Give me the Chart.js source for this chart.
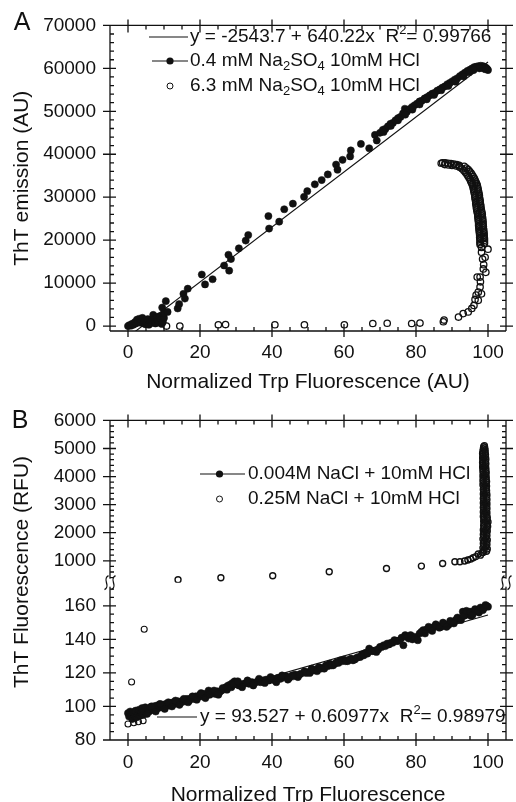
<!DOCTYPE html>
<html>
<head>
<meta charset="utf-8">
<script src="https://cdn.jsdelivr.net/npm/chart.js@4.4.0/dist/chart.umd.min.js"></script>
<style>
  html, body { margin: 0; padding: 0; background: #fff; overflow: hidden; width: 516px; height: 802px; }
  #chartA { position: absolute; left: 0; top: 0; }
  #chartB { position: absolute; left: 0; top: 395px; }
</style>
</head>
<body>
<canvas id="chartA" width="516" height="395"></canvas>
<canvas id="chartB" width="516" height="413"></canvas>
<script>
// ---- tick labels ----
const xTickVals = [0, 20, 40, 60, 80, 100];
const aYTickVals = [0, 10000, 20000, 30000, 40000, 50000, 60000, 70000];
const bLowTickVals = [80, 100, 120, 140, 160];
const bHighTickVals = [1000, 2000, 3000, 4000, 5000, 6000];

// ---- panel A: ThT emission vs normalized Trp fluorescence ----
const aSolidX = [
  0, 0.4, 0.8, 1.1, 1.5, 1.9, 2.2, 2.5, 2.8, 3.1, 3.4, 3.7, 4.0, 4.3, 4.6, 4.9, 5.2, 5.5, 5.8, 6.1, 6.4, 6.7, 7.0, 7.3, 7.6, 7.9, 8.2, 8.5, 8.8, 9.1, 9.4, 9.7, 10.0,
  9.5, 10.0, 10.5, 11.0, 13.8, 14.2, 15.4, 15.8, 16.6, 20.5, 21.4, 23.5, 26.7, 27.9, 28.1, 28.6, 30.8, 32.7, 33.4, 39.0, 39.2, 42.0, 43.4, 45.8, 48.9, 49.8, 51.9, 53.8, 55.5, 57.8, 58.2, 59.6, 61.7, 61.9, 64.7, 67.0, 68.6, 69.1,
  70.0, 70.8, 71.5, 72.2, 72.9, 73.6, 74.3, 75.0, 75.7, 76.4, 76.9, 77.5, 78.2, 78.9, 79.6, 80.3, 81.0, 81.7, 82.4, 83.1, 83.8, 84.5, 85.2, 85.9, 86.6, 87.3, 88.0, 88.7, 89.4, 90.1, 90.8, 91.5, 92.2, 92.9, 93.6, 94.3, 95.0, 95.6, 96.2, 96.8, 97.4, 98.0, 98.6, 99.1, 99.5, 99.8, 100.0,
  99.2, 98.3, 97.6, 96.0, 94.8, 93.2, 91.0, 89.0, 87.0, 85.0, 83.0, 81.0, 79.0, 77.0, 75.0, 73.0, 71.0
];
const aSolidY = [
  0, 200, 100, 500, 300, 900, 600, 1500, 1100, 1700, 800, 1400, 1900, 600, 1200, 400, 900, 1600, 300, 1100, 700, 1300, 2600, 1500, 600, 2100, 1200, 800, 2300, 1500, 500, 1000, 1900,
  4300, 3000, 5800, 3300, 4100, 5100, 7500, 6400, 8700, 12000, 9700, 10900, 14100, 16600, 12900, 15600, 18100, 19900, 21200, 25600, 22700, 24300, 27200, 28500, 30100, 31400, 33000, 34000, 35300, 37600, 36400, 38700, 39500, 40900, 42400, 41400, 44500, 43200,
  45000, 45700, 45900, 46500, 47100, 47300, 47900, 48400, 48700, 49500, 50600, 49900, 50500, 51000, 51400, 51800, 52300, 52500, 53000, 53300, 53700, 54100, 54300, 54800, 55100, 55500, 55800, 56300, 56600, 57000, 57400, 57700, 58200, 58600, 59000, 59400, 59700, 60000, 60300, 60400, 60500, 60600, 60500, 60300, 60100, 59800, 59600,
  59800, 60100, 60000, 59600, 59100, 58100, 56900, 55900, 54900, 53800, 52800, 51600, 50400, 49200, 47900, 46600, 45200
];
const aOpenX = [
  10.7, 14.4, 25.1, 27.1, 40.8, 49.0, 60.1, 68.0, 72.0, 78.8, 81.1, 87.6, 87.8, 91.8, 93.1, 94.5, 95.5, 96.1, 96.4, 97.3, 96.7, 97.3, 98.2, 97.8, 97.0, 97.8, 99.4, 98.7, 98.5, 99.2, 98.2, 100.0, 98.2, 98.8, 97.9,
  97.8, 97.8, 97.8, 97.8, 97.7, 97.7, 97.7, 97.6, 97.6, 97.5, 97.5, 97.4, 97.4, 97.4, 97.3, 97.3, 97.2, 97.2, 97.1, 97.0, 96.9, 96.8, 96.8, 96.7, 96.6, 96.6, 96.5, 96.4, 96.4, 96.3, 96.2, 96.1, 96.0, 95.9, 95.8, 95.6, 95.4, 95.2, 95.0, 94.7, 94.4, 94.1, 93.7, 93.3, 92.8, 92.2,
  99.0, 99.0, 99.0, 99.0, 98.9, 98.9, 98.9, 98.8, 98.8, 98.7, 98.7, 98.6, 98.6, 98.6, 98.5, 98.5, 98.4, 98.4, 98.3, 98.2, 98.1, 98.0, 98.0, 97.9, 97.8, 97.8, 97.7, 97.6, 97.6, 97.5, 97.4, 97.3, 97.2, 97.1, 97.0, 96.8, 96.6, 96.4, 96.2, 95.9, 95.6, 95.3, 94.9, 94.5, 94.0, 93.4,
  92.0, 91.3, 90.5, 89.7, 88.9, 88.1, 87.4, 87.0, 88.0, 89.0, 90.0, 91.0, 92.0
];
const aOpenY = [
  0, 0, 300, 350, 300, 300, 300, 600, 650, 600, 700, 1000, 1400, 2100, 2900, 3300, 4100, 4800, 6200, 6000, 7200, 7900, 7500, 9100, 11400, 11400, 12500, 13300, 15600, 16000, 17200, 17900, 18300, 14300, 10300,
  19000, 19400, 19800, 20200, 20600, 21000, 21400, 21800, 22200, 22600, 23000, 23400, 23800, 24200, 24600, 25000, 25400, 25800, 26200, 26600, 27000, 27400, 27800, 28200, 28600, 29000, 29400, 29800, 30200, 30600, 31000, 31400, 31800, 32200, 32600, 33000, 33400, 33800, 34200, 34600, 35000, 35400, 35800, 36200, 36600, 37000,
  19200, 19600, 20000, 20400, 20800, 21200, 21600, 22000, 22400, 22800, 23200, 23600, 24000, 24400, 24800, 25200, 25600, 26000, 26400, 26800, 27200, 27600, 28000, 28400, 28800, 29200, 29600, 30000, 30400, 30800, 31200, 31600, 32000, 32400, 32800, 33200, 33600, 34000, 34400, 34800, 35200, 35600, 36000, 36400, 36800, 37200,
  37400, 37600, 37700, 37850, 37900, 38000, 38000, 37900, 37600, 37500, 37400, 37300, 37100
];
// fitted line y = -2543.7 + 640.22x, end points
const aFitX = [0, 100];
const aFitY = [-2543.7, 61478.3];

// ---- panel B: ThT fluorescence (broken axis) ----
const bSolidX = [
  0.0, 0.3, 0.6, 0.9, 1.2, 1.5, 1.8, 2.1, 2.4, 2.7, 3.0, 3.3, 3.6, 3.9, 4.2, 4.5, 4.8, 5.1, 5.5, 5.9, 6.3, 6.7, 7.1, 7.5, 7.9, 8.3, 8.7, 9.1, 9.5, 10.0,
  10.5, 11.0, 11.5, 12.0, 12.5, 13.0, 13.5, 14.0, 14.6, 15.2, 15.8, 16.4, 17.0, 17.6, 18.2, 18.8, 19.4, 20.0, 20.6, 21.2, 21.8, 22.4, 23.0, 23.6, 24.2, 24.8, 25.4, 26.0, 26.6, 27.2,
  27.8, 28.4, 29.0, 29.6, 30.2, 30.8, 31.4, 32.0, 32.8, 33.6, 34.4, 35.2, 36.0, 36.8, 37.6, 38.4, 39.2, 40.0, 40.8, 41.6, 42.4, 43.2, 44.0, 44.8, 45.6, 46.4, 47.2, 48.0, 49.0, 50.0,
  51.0, 52.0, 53.0, 54.0, 55.0, 56.0, 57.0, 58.0, 59.0, 60.0, 61.0, 62.0, 63.0, 64.0, 65.0, 66.0, 67.0, 68.0, 69.0, 70.0, 71.0, 72.0, 73.0, 74.0, 75.0, 76.0, 76.5, 77.0, 78.0, 79.0,
  80.0, 81.0, 82.0, 83.0, 84.0, 85.0, 86.0, 87.0, 88.0, 89.0, 90.0, 91.0, 92.0, 93.0, 93.8, 94.5, 95.3, 96.0, 96.8, 97.5, 98.2, 99.0, 99.6, 100.0,
  5.3, 6.5, 7.7, 8.9, 10.2, 11.2, 12.2, 13.2, 14.3, 15.5, 16.7, 17.9, 19.1, 20.3, 21.5, 22.7, 23.9, 25.1, 26.3, 27.5, 28.7, 29.3, 30.5, 31.7, 33.2, 34.8, 36.4, 38.0, 39.6, 41.2,
  42.8, 44.4, 46.0, 47.6, 49.5, 50.5, 51.5, 52.5, 53.5, 54.5, 55.5, 56.5, 57.5, 58.5, 59.5, 60.5, 61.5, 62.5, 63.5, 64.5, 65.5, 66.5, 67.5, 68.5, 69.5, 70.5, 71.5, 72.5, 73.5, 74.5,
  75.5, 77.5, 78.5, 79.5, 80.5, 81.5, 82.5, 83.5, 84.5, 85.5, 86.5, 87.5, 88.5, 89.5, 90.5, 91.5, 92.5, 93.3, 94.0, 95.0, 95.7, 96.4, 97.2, 97.9, 98.6, 99.3
];
const bSolidY = [
  96.0, 94.0, 97.0, 95.0, 92.5, 96.5, 94.5, 97.5, 93.5, 95.5, 98.0, 94.5, 96.5, 99.0, 95.0, 97.5, 99.5, 96.0, 98.5, 97.0, 99.5, 98.0, 100.0, 98.5, 100.5, 99.0, 101.0, 99.5, 101.0, 100.0,
  101.5, 100.5, 102.0, 101.0, 102.5, 101.5, 102.5, 103.0, 102.0, 103.5, 103.0, 104.5, 103.5, 105.0, 104.5, 106.0, 105.5, 107.0, 106.0, 107.5, 106.5, 109.5, 108.5, 108.0, 107.5, 109.0, 108.5, 109.5, 110.5, 111.5,
  112.5, 113.0, 114.0, 115.0, 113.5, 112.5, 113.0, 113.5, 114.0, 113.5, 114.5, 114.0, 115.0, 114.5, 115.5, 116.0, 115.5, 116.5, 115.5, 117.0, 116.5, 117.5, 118.0, 117.0, 118.5, 119.0, 117.5, 119.5, 121.0, 120.5,
  122.5, 122.0, 123.5, 123.0, 124.5, 125.5, 124.5, 126.5, 127.5, 128.0, 127.0, 128.5, 128.0, 129.5, 131.0, 132.0, 134.5, 133.0, 132.5, 135.5, 136.5, 137.5, 138.0, 139.5, 139.0, 141.0, 136.5, 142.5, 140.5, 140.0,
  141.0, 143.5, 145.5, 146.0, 146.5, 147.5, 148.0, 147.5, 149.0, 148.5, 150.0, 151.5, 152.5, 156.5, 154.5, 155.5, 154.0, 156.5, 157.5, 156.0, 158.5, 159.0, 160.0, 159.5,
  95.5, 100.0, 97.0, 101.5, 98.5, 102.5, 100.0, 103.5, 101.0, 104.5, 102.5, 106.0, 104.0, 108.0, 105.0, 107.0, 109.5, 107.0, 111.0, 110.0, 111.5, 113.0, 115.0, 111.5, 115.5, 112.5, 116.5, 114.0, 117.5, 114.5,
  118.5, 116.0, 118.0, 119.0, 120.0, 120.0, 121.5, 121.0, 122.5, 122.5, 124.0, 124.5, 125.5, 126.0, 127.0, 127.0, 128.0, 127.5, 129.0, 129.5, 130.5, 131.5, 133.0, 133.0, 134.0, 135.5, 136.0, 137.0, 138.0, 139.0,
  139.5, 141.5, 142.5, 141.5, 139.5, 144.5, 143.5, 147.5, 145.0, 149.0, 147.0, 150.0, 147.5, 151.0, 149.5, 153.0, 151.5, 154.0, 157.0, 156.5, 154.5, 158.0, 157.0, 159.0, 157.5, 160.5
];
const bOpenX = [
  0.0, 1.0, 1.6, 2.9, 4.2, 4.5,
  13.9, 25.8, 40.2, 55.9, 71.8, 81.5, 87.4, 90.8, 92.2, 93.5, 94.4, 95.2, 95.9, 96.6, 97.3, 97.9, 98.4,
  98.7, 99.6, 98.9, 99.8, 98.6, 99.5, 98.8, 99.7, 98.7, 99.6, 98.9, 99.8, 98.6, 99.5, 98.8, 99.7, 98.7, 99.6, 98.9, 99.8, 98.7, 99.6, 98.9, 99.9, 98.8, 99.7, 98.9, 100.0, 98.8, 99.7,
  98.9, 99.8, 98.7, 99.6, 98.9, 99.7, 98.7, 99.6, 98.8, 99.7, 98.7, 99.6, 98.8, 99.7, 98.7, 99.6, 98.8, 99.7, 98.7, 99.6, 98.8, 99.7, 98.7, 99.6, 98.8, 99.6, 98.7, 99.5, 98.8, 99.6,
  98.6, 99.5, 98.7, 99.6, 98.6, 99.5, 98.7, 99.5, 98.6, 99.4, 98.7, 99.5, 98.6, 99.4, 98.6, 99.4, 98.5, 99.3, 98.6, 99.4, 98.5, 99.3, 98.6, 99.4, 98.5, 99.3, 98.6, 99.3, 98.5, 99.2,
  98.6, 99.2, 98.7, 99.1, 98.8, 99.0
];
const bOpenY = [
  89.5, 114.6, 90.3, 90.9, 91.5, 146,
  326, 397, 468, 610, 727, 810, 904, 965, 965, 990, 1030, 1060, 1110, 1150, 1240, 1200, 1290,
  1300, 1340, 1380, 1420, 1460, 1500, 1540, 1580, 1620, 1660, 1700, 1740, 1780, 1820, 1860, 1900, 1940, 1980, 2020, 2060, 2100, 2140, 2180, 2220, 2260, 2300, 2340, 2380, 2420, 2460,
  2500, 2540, 2580, 2620, 2660, 2700, 2740, 2780, 2820, 2860, 2900, 2940, 2980, 3020, 3060, 3100, 3140, 3180, 3220, 3260, 3300, 3340, 3380, 3420, 3460, 3500, 3540, 3580, 3620, 3660,
  3700, 3740, 3780, 3820, 3860, 3900, 3940, 3980, 4020, 4060, 4100, 4140, 4180, 4220, 4260, 4300, 4340, 4380, 4420, 4460, 4500, 4540, 4580, 4620, 4660, 4700, 4740, 4780, 4820, 4860,
  4900, 4940, 4980, 5020, 5060, 5100
];
// fitted line y = 93.527 + 0.60977x, end points
const bFitX = [0, 100];
const bFitY = [93.5, 154.5];
// axis break: lower segment top / upper segment bottom
const bLowMax = 173.8;
const bHighMin = 220;

const FONT = "'Liberation Sans', Arial, Helvetica, sans-serif";
const INK = '#111';
Chart.defaults.font.family = FONT;
Chart.defaults.color = INK;

const pts = (xs, ys) => xs.map((x, i) => ({ x: x, y: ys[i] }));
const fixTicks = vals => s => { s.ticks = vals.map(v => ({ value: v })); };
const plainLabel = v => String(v);

// frame, mirrored ticks on all four sides, optional axis break
const framePlugin = {
  id: 'frame',
  afterDatasetsDraw(chart, args, o) {
    const ctx = chart.ctx;
    const a = chart.chartArea;
    const xs = chart.scales.x;
    const seg = (x1, y1, x2, y2) => { ctx.moveTo(x1, y1); ctx.lineTo(x2, y2); };
    ctx.save();
    ctx.strokeStyle = INK;
    ctx.lineWidth = 1.3;
    ctx.beginPath();
    seg(a.left, a.top, a.right, a.top);
    seg(a.left, a.bottom, a.right, a.bottom);
    seg(a.left, a.top, a.left, a.bottom);
    seg(a.right, a.top, a.right, a.bottom);
    for (let v = 0; v <= 100; v += 5) {
      const px = xs.getPixelForValue(v);
      const major = v % 20 === 0;
      const inn = major ? 7 : 4, out = major ? 6 : 0;
      seg(px, a.bottom + out, px, a.bottom - inn);
      seg(px, a.top - out, px, a.top + inn);
    }
    for (const t of o.yTicks) {
      const ys = chart.scales[t.id];
      for (let v = t.from; v <= t.to + 1e-6; v += t.minor) {
        const py = ys.getPixelForValue(v);
        const major = Math.abs(v % t.major) < 1e-6;
        const inn = major ? 6 : 4, out = major ? 7 : 0;
        seg(a.left - out, py, a.left + inn, py);
        seg(a.right + out, py, a.right - inn, py);
      }
    }
    ctx.stroke();
    if (o.breakAxis) {
      const yb = chart.scales[o.breakAxis].bottom;
      for (const bx of [a.left, a.right]) {
        ctx.fillStyle = '#fff';
        ctx.fillRect(bx - 3, yb - 4, 6, 8);
        ctx.beginPath();
        for (const dx of [-3.5, 3.5]) {
          ctx.moveTo(bx + dx + 2, yb - 7);
          ctx.bezierCurveTo(bx + dx - 5, yb - 3, bx + dx + 5, yb + 3, bx + dx - 2, yb + 7);
        }
        ctx.stroke();
      }
    }
    ctx.restore();
  }
};

function drawRich(ctx, x, y, parts, size) {
  ctx.textAlign = 'left';
  ctx.textBaseline = 'middle';
  for (const p of parts) {
    const txt = typeof p === 'string' ? p : p[0];
    const kind = typeof p === 'string' ? '' : p[1];
    const s = kind ? Math.round(size * 0.68) : size;
    const dy = kind === 'sub' ? size * 0.3 : kind === 'sup' ? -size * 0.35 : 0;
    ctx.font = s + 'px ' + FONT;
    ctx.fillText(txt, x, y + dy);
    x += ctx.measureText(txt).width;
  }
}

// panel letter, legend rows, rotated title
const notePlugin = {
  id: 'notes',
  afterDraw(chart, args, o) {
    const ctx = chart.ctx;
    ctx.save();
    ctx.fillStyle = INK;
    ctx.strokeStyle = INK;
    ctx.font = '25px ' + FONT;
    ctx.textAlign = 'center';
    ctx.textBaseline = 'middle';
    ctx.fillText(o.letter[0], o.letter[1], o.letter[2]);
    for (const r of o.rows) {
      if (r.line) {
        ctx.lineWidth = 1.2;
        ctx.beginPath();
        ctx.moveTo(r.line[0], r.y);
        ctx.lineTo(r.line[1], r.y);
        ctx.stroke();
      }
      if (r.dot) {
        ctx.beginPath();
        ctx.arc(r.dot, r.y, 3.6, 0, Math.PI * 2);
        ctx.fill();
      }
      if (r.ring) {
        ctx.lineWidth = 1;
        ctx.beginPath();
        ctx.arc(r.ring, r.y, 3, 0, Math.PI * 2);
        ctx.stroke();
      }
      drawRich(ctx, r.tx, r.y, r.parts, 19);
    }
    if (o.yTitle) {
      ctx.translate(o.yTitle[1], o.yTitle[2]);
      ctx.rotate(-Math.PI / 2);
      ctx.font = '21px ' + FONT;
      ctx.textAlign = 'center';
      ctx.fillText(o.yTitle[0], 0, 0);
    }
    ctx.restore();
  }
};

const tickFont = { size: 19 };
const titleFont = { size: 21 };
const noGrid = { display: false, drawTicks: false };

new Chart(document.getElementById('chartA'), {
  type: 'scatter',
  data: {
    datasets: [
      { data: pts(aFitX, aFitY), showLine: true, pointRadius: 0, borderColor: INK, borderWidth: 1.1 },
      { data: pts(aSolidX, aSolidY), pointRadius: 3.6, pointBackgroundColor: INK, pointBorderColor: INK, pointBorderWidth: 0.5 },
      { data: pts(aOpenX, aOpenY), pointRadius: 3.2, pointBackgroundColor: 'rgba(0,0,0,0)', pointBorderColor: INK, pointBorderWidth: 1.3 }
    ]
  },
  options: {
    responsive: false,
    animation: false,
    events: [],
    layout: { padding: { top: 21, right: 10, left: 0, bottom: 0 } },
    plugins: {
      legend: { display: false },
      tooltip: { enabled: false },
      frame: { yTicks: [{ id: 'y', from: 0, to: 70000, minor: 2000, major: 10000 }] },
      notes: {
        letter: ['A', 22, 23],
        rows: [
          { y: 37, line: [149, 188], tx: 190, parts: ['y = -2543.7 + 640.22x  R', ['2', 'sup'], '= 0.99766'] },
          { y: 61, line: [152, 188], dot: 170, tx: 190, parts: ['0.4 mM Na', ['2', 'sub'], 'SO', ['4', 'sub'], ' 10mM HCl'] },
          { y: 86, ring: 170, tx: 190, parts: ['6.3 mM Na', ['2', 'sub'], 'SO', ['4', 'sub'], ' 10mM HCl'] }
        ]
      }
    },
    scales: {
      x: {
        type: 'linear', min: -5, max: 105,
        grid: noGrid, border: { display: false },
        afterBuildTicks: fixTicks(xTickVals),
        ticks: { padding: 10.6, font: tickFont, color: INK, callback: plainLabel },
        title: { display: true, text: 'Normalized Trp Fluorescence (AU)', font: titleFont, color: INK, padding: { top: 0, bottom: 0 } },
        afterFit: s => { s.height = 64; }
      },
      y: {
        type: 'linear', min: -1150, max: 70000,
        grid: noGrid, border: { display: false },
        afterBuildTicks: fixTicks(aYTickVals),
        ticks: { padding: 14, font: tickFont, color: INK, autoSkip: false, callback: plainLabel },
        title: { display: true, text: 'ThT emission (AU)', font: titleFont, color: INK, padding: { top: 9.4, bottom: 0 } },
        afterFit: s => { s.width = 110; }
      }
    }
  },
  plugins: [framePlugin, notePlugin]
});

const bOpenAll = pts(bOpenX, bOpenY);

new Chart(document.getElementById('chartB'), {
  type: 'scatter',
  data: {
    datasets: [
      { data: pts(bFitX, bFitY), yAxisID: 'yLow', showLine: true, pointRadius: 0, borderColor: INK, borderWidth: 1.1 },
      { data: pts(bSolidX, bSolidY), yAxisID: 'yLow', pointRadius: 3.6, pointBackgroundColor: INK, pointBorderColor: INK, pointBorderWidth: 0.5 },
      { data: bOpenAll.filter(p => p.y <= bLowMax), yAxisID: 'yLow', pointRadius: 3, pointBackgroundColor: 'rgba(0,0,0,0)', pointBorderColor: INK, pointBorderWidth: 1.1 },
      { data: bOpenAll.filter(p => p.y >= bHighMin), yAxisID: 'yHigh', pointRadius: 3, pointBackgroundColor: 'rgba(0,0,0,0)', pointBorderColor: INK, pointBorderWidth: 1.4 }
    ]
  },
  options: {
    responsive: false,
    animation: false,
    events: [],
    layout: { padding: { top: 24, right: 10, left: 0, bottom: 0 } },
    plugins: {
      legend: { display: false },
      tooltip: { enabled: false },
      frame: {
        breakAxis: 'yHigh',
        yTicks: [
          { id: 'yLow', from: 80, to: 170, minor: 5, major: 20 },
          { id: 'yHigh', from: 400, to: 6000, minor: 200, major: 1000 }
        ]
      },
      notes: {
        letter: ['B', 20, 26],
        yTitle: ['ThT Fluorescence (RFU)', 22, 177],
        rows: [
          { y: 79, line: [200, 245], dot: 219.5, tx: 248, parts: ['0.004M NaCl + 10mM HCl'] },
          { y: 104, ring: 219.5, tx: 248, parts: ['0.25M NaCl + 10mM HCl'] },
          { y: 322, line: [157, 197], tx: 200, parts: ['y = 93.527 + 0.60977x  R', ['2', 'sup'], '= 0.98979'] }
        ]
      }
    },
    scales: {
      x: {
        type: 'linear', min: -5, max: 105,
        grid: noGrid, border: { display: false },
        afterBuildTicks: fixTicks(xTickVals),
        ticks: { padding: 11.6, font: tickFont, color: INK, callback: plainLabel },
        title: { display: true, text: 'Normalized Trp Fluorescence', font: titleFont, color: INK, padding: { top: 0, bottom: 0 } },
        afterFit: s => { s.height = 68; }
      },
      yLow: {
        type: 'linear', position: 'left', stack: 'ht', stackWeight: 158, min: 80, max: bLowMax,
        grid: noGrid, border: { display: false },
        afterBuildTicks: fixTicks(bLowTickVals),
        ticks: { padding: 14, font: tickFont, color: INK, autoSkip: false, callback: plainLabel },
        afterFit: s => { s.width = 110; }
      },
      yHigh: {
        type: 'linear', position: 'left', stack: 'ht', stackWeight: 163, min: bHighMin, max: 6000,
        grid: noGrid, border: { display: false },
        afterBuildTicks: fixTicks(bHighTickVals),
        ticks: { padding: 14, font: tickFont, color: INK, autoSkip: false, callback: plainLabel },
        afterFit: s => { s.width = 110; }
      }
    }
  },
  plugins: [framePlugin, notePlugin]
});
</script>
</body>
</html>
